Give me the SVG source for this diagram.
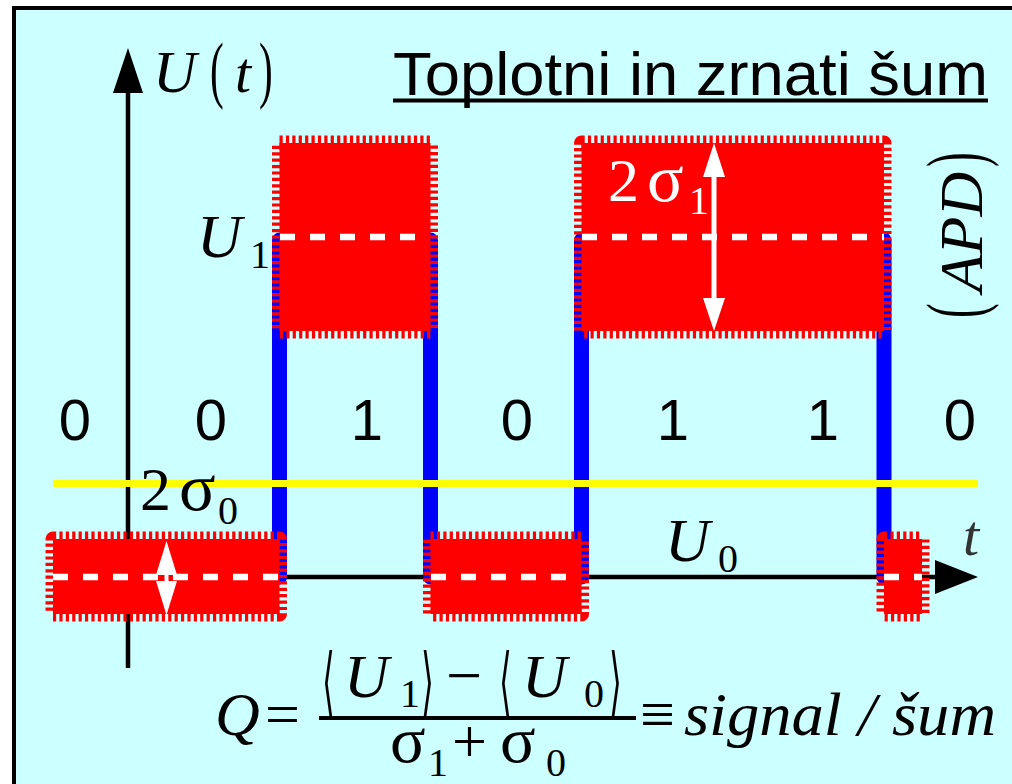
<svg xmlns="http://www.w3.org/2000/svg" width="1012" height="784" viewBox="0 0 1012 784">
<style>
.serif{font-family:"Liberation Serif","DejaVu Serif",serif;}
.it{font-style:italic;}
.sans{font-family:"Liberation Sans",Arial,sans-serif;}
.box{fill:#FF0000;stroke:#FF0000;stroke-width:15;stroke-dasharray:3.2 3.2;stroke-linejoin:round;}
.mid{fill:none;stroke:#FFFFFF;stroke-width:6.5;stroke-dasharray:15 15;}
.wave{stroke:#0000FF;stroke-width:15;stroke-linecap:round;}
.axis{stroke:#000;stroke-width:4.5;}
.ang{font-family:"DejaVu Serif",serif;font-size:60px;}
</style>
<rect x="0" y="0" width="1012" height="784" fill="#FFFFFF"/>
<rect x="14" y="8" width="1010" height="790" fill="#CCFFFF" stroke="#000" stroke-width="4"/>

<g id="connectors">
  <line class="axis" x1="128" y1="90" x2="128" y2="668"/>
  <polygon points="113,93 128,48 143,93" fill="#000"/>
  <line class="axis" x1="128" y1="577" x2="940" y2="577"/>
  <polygon points="935,560 978,577 935,594" fill="#000"/>
  <line class="wave" x1="279.5" y1="240" x2="279.5" y2="577"/>
  <line class="wave" x1="430.5" y1="240" x2="430.5" y2="577"/>
  <line class="wave" x1="581.5" y1="240" x2="581.5" y2="577"/>
  <line class="wave" x1="884" y1="240" x2="884" y2="577"/>
</g>

<g id="box-A">
  <rect class="box" x="279.5" y="143" width="151" height="188"/>
  <line class="mid" x1="280" y1="237" x2="430" y2="237"/>
</g>
<g id="box-B">
  <rect class="box" x="581.5" y="143" width="302.5" height="188"/>
  <line class="mid" x1="582" y1="237" x2="884" y2="237"/>
  <line x1="714" y1="175" x2="714" y2="300" stroke="#FFF" stroke-width="5"/>
  <polygon points="714,143 725,177 703,177" fill="#FFF"/>
  <polygon points="714,331 725,298 703,298" fill="#FFF"/>
</g>
<g id="box-C">
  <rect class="box" x="53" y="539" width="226.5" height="75"/>
  <line class="mid" x1="53" y1="577" x2="279" y2="577"/>
  <line x1="166.5" y1="570" x2="166.5" y2="585" stroke="#FFF" stroke-width="4"/>
  <polygon points="166.5,541 177,575 156,575" fill="#FFF"/>
  <polygon points="166.5,615 177,581 156,581" fill="#FFF"/>
</g>
<g id="box-D">
  <rect class="box" x="430.5" y="539" width="151" height="75"/>
  <line class="mid" x1="431" y1="577" x2="581" y2="577"/>
</g>
<g id="box-E">
  <rect class="box" x="884" y="539" width="38" height="75"/>
  <line class="mid" x1="884" y1="577" x2="922" y2="577"/>
</g>

<g id="threshold">
  <line x1="53" y1="483.5" x2="978" y2="483.5" stroke="#FFFF00" stroke-width="7"/>
</g>

<g id="axis-labels" class="serif">
  <text x="153" y="92" class="it" font-size="60">U</text>
  <text transform="translate(210,94) scale(0.55,1)" font-size="75">(</text>
  <text x="235" y="92" class="it" font-size="58">t</text>
  <text transform="translate(259,94) scale(0.55,1)" font-size="75">)</text>
  <text x="963" y="555" class="it" font-size="58" fill="#333">t</text>
  <text x="197" y="257" class="it" font-size="62">U</text>
  <text x="250" y="268" font-size="40">1</text>
  <text x="665" y="561" class="it" font-size="62">U</text>
  <text x="718" y="572" font-size="40">0</text>
</g>

<g id="sigma-labels" class="serif">
  <text x="608" y="201" font-size="62" fill="#FFF">2</text>
  <text x="647" y="201" font-size="68" fill="#FFF">σ</text>
  <text x="689" y="214" font-size="40" fill="#FFF">1</text>
  <text x="140" y="510" font-size="62">2</text>
  <text x="179" y="510" font-size="68">σ</text>
  <text x="218" y="524" font-size="40">0</text>
</g>

<g id="bits" class="sans" font-size="58" text-anchor="middle">
  <text x="75" y="440">0</text>
  <text x="211" y="440">0</text>
  <text x="367" y="440">1</text>
  <text x="517" y="440">0</text>
  <text x="673" y="440">1</text>
  <text x="823" y="440">1</text>
  <text x="960" y="440">0</text>
</g>

<g id="title">
  <text x="393" y="95" class="sans" font-size="61" textLength="595" lengthAdjust="spacingAndGlyphs">Toplotni in zrnati šum</text>
  <line x1="393" y1="100.5" x2="988" y2="100.5" stroke="#000" stroke-width="4"/>
</g>

<g id="apd" class="serif">
  <text transform="translate(982,232) rotate(-90)" text-anchor="middle" class="it" font-size="62">APD</text>
  <text transform="translate(982,318) rotate(-90) scale(0.55,1)" font-size="80">(</text>
  <text transform="translate(982,167) rotate(-90) scale(0.55,1)" font-size="80">)</text>
</g>

<g id="formula" class="serif">
  <text x="215" y="735" class="it" font-size="62">Q</text>
  <text x="265" y="735" font-size="62">=</text>
  <line x1="319" y1="718" x2="636" y2="718" stroke="#000" stroke-width="4"/>
  <text class="ang" transform="translate(322,707) scale(0.55,1.25)">⟨</text>
  <text x="344" y="697" class="it" font-size="62">U</text>
  <text x="400" y="707" font-size="40">1</text>
  <text class="ang" transform="translate(421,707) scale(0.55,1.25)">⟩</text>
  <text x="446" y="697" font-size="64">−</text>
  <text class="ang" transform="translate(499,707) scale(0.55,1.25)">⟨</text>
  <text x="522" y="697" class="it" font-size="62">U</text>
  <text x="584" y="707" font-size="40">0</text>
  <text class="ang" transform="translate(609,707) scale(0.55,1.25)">⟩</text>
  <text x="390" y="762" font-size="66">σ</text>
  <text x="428" y="776" font-size="40">1</text>
  <text x="452" y="762" font-size="62">+</text>
  <text x="500" y="762" font-size="66">σ</text>
  <text x="546" y="776" font-size="40">0</text>
  <text x="640" y="735" font-size="62">≡</text>
  <text x="684" y="735" class="it" font-size="62" textLength="312" lengthAdjust="spacingAndGlyphs">signal / šum</text>
</g>
</svg>
